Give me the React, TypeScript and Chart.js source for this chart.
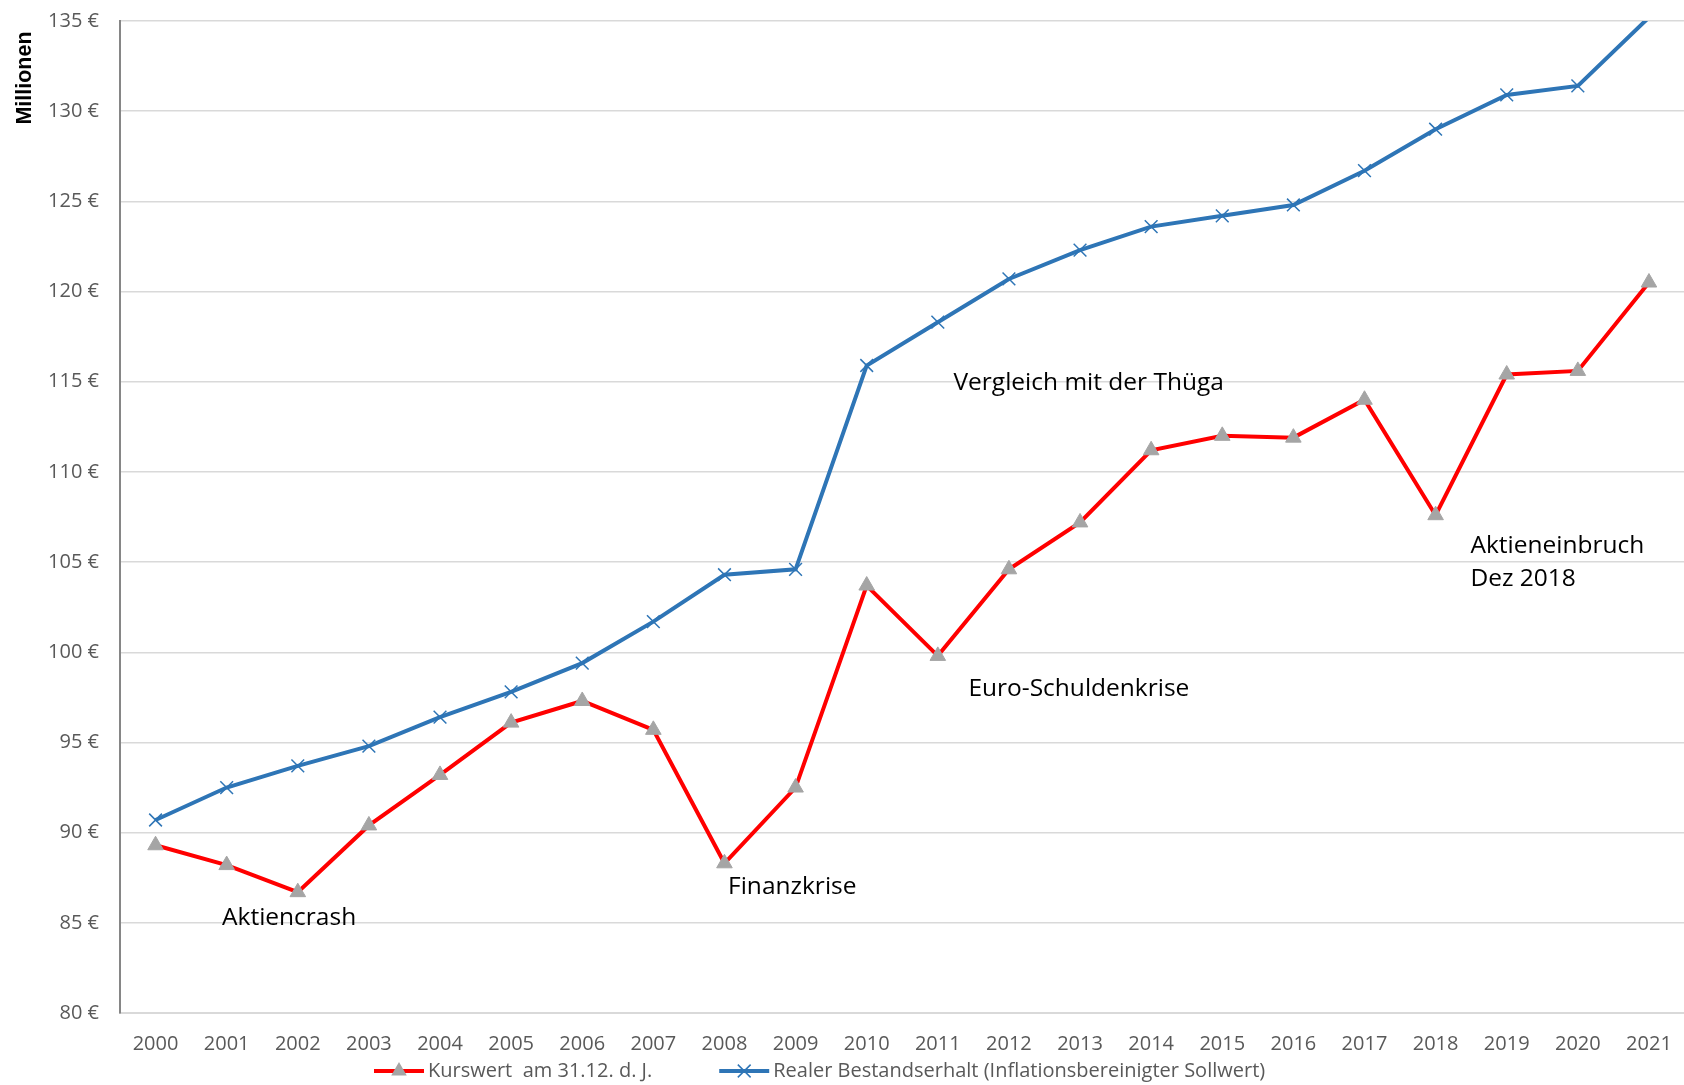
import React, { useEffect, useRef } from "react";
import { Chart, registerables } from "chart.js";

Chart.register(...registerables);

const years = ["2000","2001","2002","2003","2004","2005","2006","2007","2008","2009","2010","2011","2012","2013","2014","2015","2016","2017","2018","2019","2020","2021"];
const kurswert = [89.3, 88.2, 86.7, 90.4, 93.2, 96.1, 97.3, 95.7, 88.3, 92.5, 103.7, 99.8, 104.6, 107.2, 111.2, 112.0, 111.9, 114.0, 107.6, 115.4, 115.6, 120.5];
const bestandserhalt = [90.7, 92.5, 93.7, 94.8, 96.4, 97.8, 99.4, 101.7, 104.3, 104.6, 115.9, 118.3, 120.7, 122.3, 123.6, 124.2, 124.8, 126.7, 129.0, 130.9, 131.4, 135.2];
const seriesLabels = ["Kurswert  am 31.12. d. J.", "Realer Bestandserhalt (Inflationsbereinigter Sollwert)"];
const yTicksMin = 80;
const yTicksMax = 135;
const yStep = 5;
const yTitle = "Millionen";

// annotation texts, anchored in data space (category index, value)
const annotTexts = ["Aktiencrash", "Finanzkrise", "Euro-Schuldenkrise", "Vergleich mit der Thüga", "Aktieneinbruch", "Dez 2018"];
const annotIdx = [0.935, 8.05, 11.43, 11.22, 18.49, 18.49];
const annotVal = [85.25, 86.97, 97.98, 114.91, 105.89, 104.06];

const RED = "#ff0000";
const BLUE = "#2e75b6";
const GRAYMARK = "#a5a5a5";
const TICK = "#595959";
const GRID = "#d9d9d9";
const FONT = "'Open Sans', sans-serif";

const VIEW_W = 1684;
const VIEW_H = 1085;
// Chart.js keeps ~10.5px of right-side layout padding; widen the canvas and clip it
const CANVAS_W = 1695;

const overlayPlugin = {
  id: "overlay",
  afterDraw(chart: any) {
    const ctx = chart.ctx as CanvasRenderingContext2D;
    const xs = chart.scales.x;
    const ys = chart.scales.y;
    ctx.save();
    // annotations
    ctx.fillStyle = "#000000";
    ctx.font = `24.5px ${FONT}`;
    ctx.textAlign = "left";
    ctx.textBaseline = "middle";
    for (let i = 0; i < annotTexts.length; i++) {
      const px = xs.getPixelForValue(annotIdx[i]);
      const py = ys.getPixelForValue(annotVal[i]);
      ctx.fillText(annotTexts[i], px, py);
    }
    // y title
    ctx.save();
    ctx.translate(25, 78);
    ctx.rotate(-Math.PI / 2);
    ctx.font = `bold 21.5px 'Liberation Sans', Arial, sans-serif`;
    ctx.textAlign = "center";
    ctx.textBaseline = "middle";
    ctx.fillStyle = "#000000";
    ctx.fillText(yTitle, 0, 0);
    ctx.restore();
    // legend
    const ly = 1071;
    let lx = 374;
    const lineLen = 50;
    ctx.font = `20px ${FONT}`;
    ctx.textBaseline = "middle";
    ctx.textAlign = "left";
    for (let i = 0; i < seriesLabels.length; i++) {
      const color = i === 0 ? RED : BLUE;
      ctx.strokeStyle = color;
      ctx.lineWidth = 4;
      ctx.beginPath();
      ctx.moveTo(lx, ly);
      ctx.lineTo(lx + lineLen, ly);
      ctx.stroke();
      const cx = lx + lineLen / 2;
      if (i === 0) {
        ctx.fillStyle = GRAYMARK;
        const r = 9;
        ctx.beginPath();
        ctx.moveTo(cx, ly - r);
        ctx.lineTo(cx + r * Math.sin(Math.PI / 3), ly + r / 2);
        ctx.lineTo(cx - r * Math.sin(Math.PI / 3), ly + r / 2);
        ctx.closePath();
        ctx.fill();
      } else {
        ctx.lineWidth = 1.5;
        const d = 6.4;
        ctx.beginPath();
        ctx.moveTo(cx - d, ly - d);
        ctx.lineTo(cx + d, ly + d);
        ctx.moveTo(cx + d, ly - d);
        ctx.lineTo(cx - d, ly + d);
        ctx.stroke();
      }
      ctx.fillStyle = TICK;
      ctx.fillText(seriesLabels[i], lx + lineLen + 4, ly);
      lx += lineLen + 4 + ctx.measureText(seriesLabels[i]).width + 67;
    }
    ctx.restore();
  },
};

export default function App() {
  const ref = useRef<HTMLCanvasElement | null>(null);
  useEffect(() => {
    if (!ref.current) return;
    const chart = new Chart(ref.current, {
      type: "line",
      data: {
        labels: years,
        datasets: [
          {
            label: seriesLabels[0],
            data: kurswert,
            borderColor: RED,
            borderWidth: 4,
            tension: 0,
            pointStyle: "triangle",
            pointRadius: 9,
            pointBackgroundColor: GRAYMARK,
            pointBorderColor: GRAYMARK,
            pointBorderWidth: 1,
          },
          {
            label: seriesLabels[1],
            data: bestandserhalt,
            borderColor: BLUE,
            borderWidth: 4,
            tension: 0,
            clip: 0,
            pointStyle: "crossRot",
            pointRadius: (c: any) => (c.raw > yTicksMax ? 0 : 9),
            pointBorderColor: BLUE,
            pointBackgroundColor: BLUE,
            pointBorderWidth: 1.5,
          },
        ],
      },
      options: {
        responsive: false,
        animation: false,
        layout: { padding: { top: 21, right: 0, bottom: 0, left: 0 } },
        plugins: { legend: { display: false }, tooltip: { enabled: false } },
        scales: {
          x: {
            offset: true,
            grid: { display: false, drawTicks: false },
            border: { display: true, color: GRID, width: 2 },
            ticks: { color: TICK, font: { family: FONT, size: 20 }, padding: 19, maxRotation: 0, autoSkip: false },
            afterFit: (s: any) => { s.height = 72; s.paddingLeft = 0; s.paddingRight = 0; s.paddingTop = 0; s.paddingBottom = 0; },
          },
          y: {
            min: yTicksMin,
            max: yTicksMax,
            grid: { color: GRID, lineWidth: 1.5, drawTicks: false },
            border: { display: true, color: "#868686", width: 2 },
            ticks: {
              stepSize: yStep,
              color: TICK,
              font: { family: FONT, size: 20 },
              padding: 21,
              callback: (v: any) => `${v} €`,
            },
            afterFit: (s: any) => { s.width = 120; s.paddingTop = 0; s.paddingBottom = 0; s.paddingLeft = 0; s.paddingRight = 0; },
          },
        },
      },
      plugins: [overlayPlugin],
    } as any);
    return () => chart.destroy();
  }, []);
  return (
    <div style={{ position: "absolute", left: 0, top: 0, width: VIEW_W, height: VIEW_H, background: "#fff", overflow: "hidden" }}>
      <canvas ref={ref} width={CANVAS_W} height={VIEW_H} style={{ display: "block" }} />
    </div>
  );
}
